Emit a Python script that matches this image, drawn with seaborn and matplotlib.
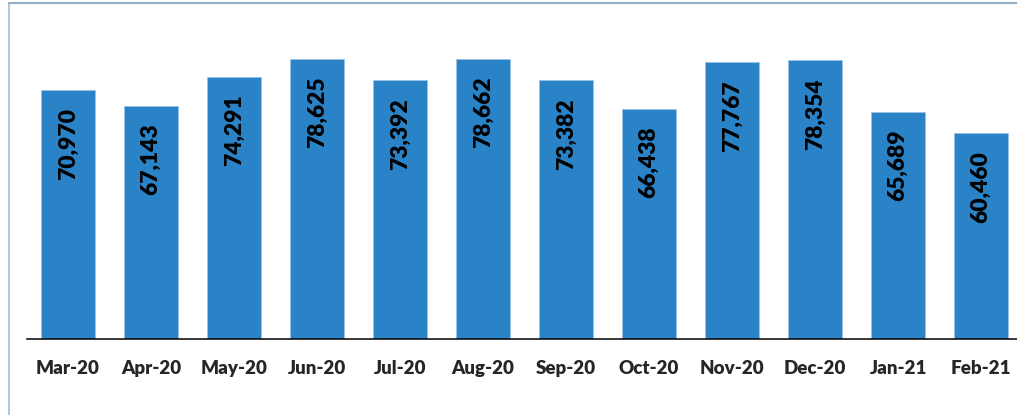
import pandas as pd
import matplotlib.pyplot as plt
import seaborn as sns
from matplotlib.lines import Line2D

months = ["Mar-20", "Apr-20", "May-20", "Jun-20", "Jul-20", "Aug-20",
          "Sep-20", "Oct-20", "Nov-20", "Dec-20", "Jan-21", "Feb-21"]
counts = [70970, 67143, 74291, 78625, 73392, 78662,
          73382, 66438, 77767, 78354, 65689, 60460]

df = pd.DataFrame({"month": months, "count": counts})

sns.set_style("white")
plt.rcParams['font.family'] = ['Lato', 'DejaVu Sans']
bar_color = "#2A82C7"

fig = plt.figure(figsize=(10.17, 4.15), dpi=100)
ax = fig.add_axes([0.0261, 0.1831, 0.9794, 0.787])

sns.barplot(data=df, x="month", y="count", color=bar_color, width=0.65,
            saturation=1, edgecolor="#9CC3E8", linewidth=0.6, ax=ax)

ax.set_ylim(10000, 90000)
ax.set_xlim(-0.5, len(months) - 0.5)

# value labels inside bars, rotated
for i, v in enumerate(counts):
    ax.annotate(f"{v:,}", (i, v), xytext=(0, -13), textcoords="offset points",
                rotation=90, ha="center", va="top", fontsize=16.5,
                fontweight="heavy", color="black")

sns.despine(ax=ax, left=True, top=True, right=True)
ax.spines["bottom"].set_color("black")
ax.spines["bottom"].set_linewidth(1.1)
ax.set_yticks([])
ax.set_ylabel("")
ax.set_xlabel("")

# labels at centres, tick marks between categories
ax.set_xticks(range(len(months)))
ax.set_xticklabels(months, fontsize=13.5, fontweight="heavy")
ax.tick_params(axis="x", which="major", length=0, pad=15)
ax.set_xticks([i - 0.5 for i in range(len(months) + 1)], minor=True)
ax.tick_params(axis="x", which="minor", length=5, width=0.9,
               color="#555555", direction="out")

# frame of the original chart box
fig.add_artist(Line2D([0.0088, 0.0088], [0, 0.992], color="#AFC8E2", lw=1.5))
fig.add_artist(Line2D([0.0088, 1], [0.992, 0.992], color="#93AEC6", lw=1.5))

fig.savefig("out.png", dpi=100)
